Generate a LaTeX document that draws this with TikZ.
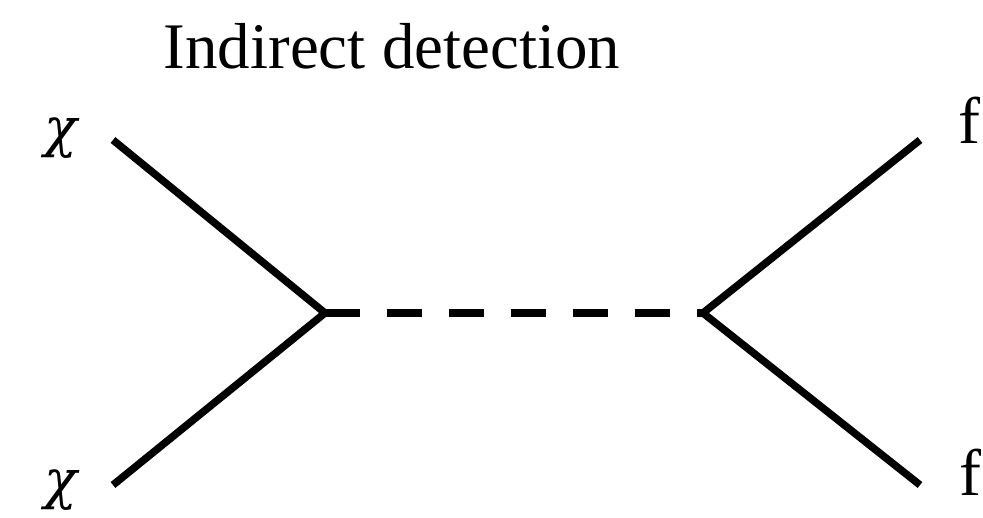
\documentclass[tikz,border=0pt]{standalone}
\usepackage{fontspec}
\setmainfont{Liberation Serif}
\newfontfamily\grkfont{DejaVu Serif}
\begin{document}
\begin{tikzpicture}[x=1pt,y=-1pt,
  fermion/.style={line width=7.5pt},
  boson/.style={line width=7.5pt,dash pattern=on 35pt off 27pt},
  lbl/.style={inner sep=0pt,anchor=base,font=\fontsize{66}{74}\selectfont},
  chil/.style={inner sep=0pt,anchor=base,font=\grkfont\fontsize{54}{62}\selectfont\itshape},
  ttl/.style={inner sep=0pt,anchor=base,font=\fontsize{65}{74}\selectfont}]
\useasboundingbox (0,0) rectangle (983,517);
\node[ttl] (title) at (392,68) {Indirect detection};
\coordinate (v1) at (325,313);
\coordinate (v2) at (703,313);
\coordinate (a) at (113,140);
\coordinate (b) at (113,485);
\coordinate (c) at (920,140);
\coordinate (d) at (920,485);
\draw[fermion] (a) -- (v1) -- (b);
\draw[fermion] (c) -- (v2) -- (d);
\draw[boson] (v1) -- (v2);
\node[chil] (chi1) at (61,146) {χ};
\node[chil] (chi2) at (61,498) {χ};
\node[lbl] (f1) at (969,143) {f};
\node[lbl] (f2) at (970,495) {f};
\end{tikzpicture}
\end{document}
